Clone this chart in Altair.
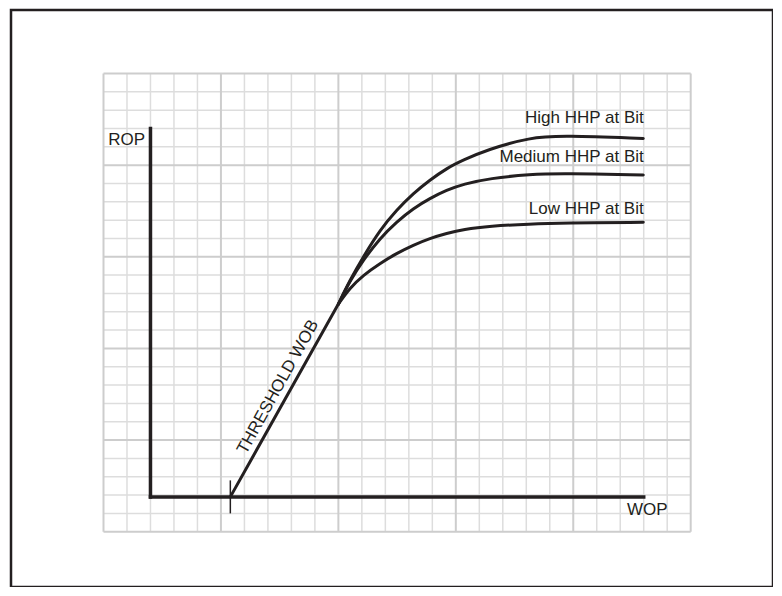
import altair as alt
import pandas as pd

# ---- data (grid units: 25 x 25 cells, major line every 5) ----
grid_minor = [i for i in range(26) if i % 5]
grid_major = [0, 5, 10, 15, 20, 25]

wob_x = [5.4, 10.0]
wob_y = [1.9, 12.42]

high_x = [10.0, 10.49, 11.06, 11.77, 12.48, 13.19, 13.90, 14.61, 15.32, 16.31, 18.16, 19.58, 22.98]
high_y = [12.42, 13.72, 15.00, 16.46, 17.55, 18.46, 19.19, 19.83, 20.28, 20.83, 21.52, 21.61, 21.46]
med_x = [10.0, 10.49, 11.06, 11.77, 12.48, 13.19, 13.90, 14.61, 15.32, 16.45, 18.16, 19.58, 22.98]
med_y = [12.42, 13.68, 14.82, 16.01, 16.91, 17.64, 18.19, 18.64, 18.97, 19.28, 19.50, 19.55, 19.46]
low_x = [10.0, 10.49, 11.06, 11.77, 12.48, 13.19, 13.90, 14.61, 15.32, 16.45, 18.16, 19.58, 22.98]
low_y = [12.42, 13.30, 14.00, 14.64, 15.19, 15.64, 16.01, 16.28, 16.50, 16.68, 16.79, 16.84, 16.88]

axis_origin = (2.0, 1.9)
axis_x_end = 23.0
axis_y_end = 22.0
tick_x = 5.4
tick_y = [1.0, 2.8]

label_text = ["High HHP at Bit", "Medium HHP at Bit", "Low HHP at Bit"]
label_x = [23.0, 23.0, 23.0]
label_y = [22.28, 20.19, 17.33]

INK = "#231f20"
FONT = "Liberation Sans"

xs = alt.Scale(domain=[-3.938, 28.504], nice=False, zero=False)
ys = alt.Scale(domain=[-3.017, 28.465], nice=False, zero=False)


def X(f):
    return alt.X(f, type="quantitative", scale=xs, axis=None)


def Y(f):
    return alt.Y(f, type="quantitative", scale=ys, axis=None)


# grid tables
vminor = pd.DataFrame({"x": grid_minor, "y1": 0, "y2": 25})
hminor = pd.DataFrame({"y": grid_minor, "x1": 0, "x2": 25})
vmajor = pd.DataFrame({"x": grid_major, "y1": 0, "y2": 25})
hmajor = pd.DataFrame({"y": grid_major, "x1": 0, "x2": 25})

minor_c, major_c = "#dddddd", "#cdcdcd"
layers = [
    alt.Chart(vminor).mark_rule(color=minor_c, strokeWidth=1.5).encode(x=X("x"), y=Y("y1"), y2="y2"),
    alt.Chart(hminor).mark_rule(color=minor_c, strokeWidth=1.5).encode(y=Y("y"), x=X("x1"), x2="x2"),
    alt.Chart(vmajor).mark_rule(color=major_c, strokeWidth=2).encode(x=X("x"), y=Y("y1"), y2="y2"),
    alt.Chart(hmajor).mark_rule(color=major_c, strokeWidth=2).encode(y=Y("y"), x=X("x1"), x2="x2"),
]

# axes (ROP vertical, WOP horizontal)
ax_v = pd.DataFrame({"x": [axis_origin[0]], "y1": [axis_origin[1]], "y2": [axis_y_end]})
ax_h = pd.DataFrame({"y": [axis_origin[1]], "x1": [axis_origin[0]], "x2": [axis_x_end]})
tick = pd.DataFrame({"x": [tick_x], "y1": [tick_y[0]], "y2": [tick_y[1]]})
layers += [
    alt.Chart(ax_v).mark_rule(color=INK, strokeWidth=3.5, strokeCap="square").encode(x=X("x"), y=Y("y1"), y2="y2"),
    alt.Chart(ax_h).mark_rule(color=INK, strokeWidth=3.5, strokeCap="square").encode(y=Y("y"), x=X("x1"), x2="x2"),
    alt.Chart(tick).mark_rule(color=INK, strokeWidth=1.5).encode(x=X("x"), y=Y("y1"), y2="y2"),
]

# threshold line
wob = pd.DataFrame({"x": wob_x, "y": wob_y})
layers.append(
    alt.Chart(wob).mark_line(color=INK, strokeWidth=3, strokeCap="round").encode(x=X("x"), y=Y("y"))
)

# HHP curves
rows = []
for name, xv, yv in [("high", high_x, high_y), ("medium", med_x, med_y), ("low", low_x, low_y)]:
    for i, (a, b) in enumerate(zip(xv, yv)):
        rows.append({"series": name, "x": a, "y": b, "order": i})
curves = pd.DataFrame(rows)
layers.append(
    alt.Chart(curves).mark_line(color=INK, strokeWidth=3, interpolate="basis", strokeCap="round").encode(
        x=X("x"), y=Y("y"), detail="series:N", order="order:Q"
    )
)

# labels
lab = pd.DataFrame({"t": label_text, "x": label_x, "y": label_y})
layers.append(
    alt.Chart(lab).mark_text(align="right", baseline="alphabetic", font=FONT, fontSize=17, color=INK).encode(
        x=X("x"), y=Y("y"), text="t:N"
    )
)
rop = pd.DataFrame({"t": ["ROP"], "x": [1.77], "y": [21.09]})
wop = pd.DataFrame({"t": ["WOP"], "x": [22.29], "y": [0.91]})
thr = pd.DataFrame({"t": ["THRESHOLD WOB"], "x": [7.43], "y": [7.90]})
layers += [
    alt.Chart(rop).mark_text(align="right", baseline="alphabetic", font=FONT, fontSize=17, color=INK).encode(
        x=X("x"), y=Y("y"), text="t:N"),
    alt.Chart(wop).mark_text(align="left", baseline="alphabetic", font=FONT, fontSize=17, color=INK).encode(
        x=X("x"), y=Y("y"), text="t:N"),
    alt.Chart(thr).mark_text(align="center", baseline="middle", angle=299, font=FONT, fontSize=17, color=INK).encode(
        x=X("x"), y=Y("y"), text="t:N"),
]

chart = alt.layer(*layers).properties(
    width=762, height=577,
    padding={"left": 3, "top": 2, "right": 0, "bottom": 0},
    background="white",
).configure_view(stroke=INK, strokeWidth=2.5)

chart.save("out.html", embed_options={"renderer": "svg", "actions": False})
